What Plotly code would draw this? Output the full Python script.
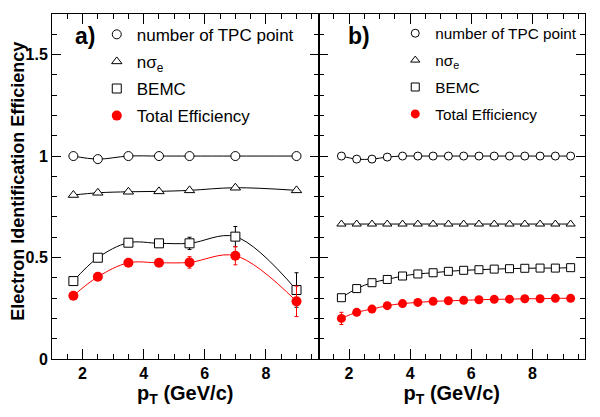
import plotly.graph_objects as go

# panel a) - coarse pT bins
pt_a = [1.7, 2.5, 3.5, 4.5, 5.5, 7.0, 9.0]
tpc_a = [1.0, 0.985, 1.0, 1.0, 1.0, 1.0, 1.0]
nsig_a = [0.808, 0.819, 0.824, 0.826, 0.831, 0.844, 0.831]
bemc_a = [0.384, 0.499, 0.573, 0.570, 0.570, 0.603, 0.340]
bemc_a_err = [0.005, 0.006, 0.008, 0.010, 0.030, 0.050, 0.085]
total_a = [0.312, 0.405, 0.474, 0.474, 0.476, 0.509, 0.284]
total_a_err = [0.008, 0.010, 0.012, 0.014, 0.028, 0.045, 0.075]

# panel b) - fine pT bins
pt_b = [1.75, 2.25, 2.75, 3.25, 3.75, 4.25, 4.75, 5.25,
        5.75, 6.25, 6.75, 7.25, 7.75, 8.25, 8.75, 9.25]
tpc_b = [1.0, 0.985, 0.985, 0.995, 1.0, 1.0, 1.0, 1.0,
         1.0, 1.0, 1.0, 1.0, 1.0, 1.0, 1.0, 1.0]
nsig_b = [0.665, 0.665, 0.665, 0.665, 0.665, 0.665, 0.665, 0.665,
          0.665, 0.665, 0.665, 0.665, 0.665, 0.665, 0.665, 0.665]
bemc_b = [0.302, 0.347, 0.376, 0.392, 0.409, 0.419, 0.425, 0.432,
          0.437, 0.440, 0.443, 0.445, 0.447, 0.448, 0.448, 0.450]
total_b = [0.200, 0.230, 0.246, 0.263, 0.273, 0.279, 0.284, 0.287,
           0.289, 0.292, 0.294, 0.295, 0.297, 0.297, 0.299, 0.299]
total_b_err = [0.030, 0.012, 0.010, 0.008, 0.007, 0.006, 0.006, 0.006,
               0.006, 0.006, 0.006, 0.006, 0.006, 0.006, 0.006, 0.006]

names = ["number of TPC point", "nσ<sub>e</sub>", "BEMC", "Total Efficiency"]
FONT = "Liberation Sans, Arial, Helvetica, sans-serif"

fig = go.Figure()


def add_panel(x, series, errs, xa, ya, leg, msize):
    styles = [
        dict(symbol="circle", color="white", line=dict(color="black", width=1)),
        dict(symbol="triangle-up", color="white", line=dict(color="black", width=1)),
        dict(symbol="square", color="white", line=dict(color="black", width=1)),
        dict(symbol="circle", color="red", line=dict(color="red", width=0)),
    ]
    line_cols = ["black", "black", "black", "red"]
    # smooth curves first, markers on top
    for y, col in zip(series, line_cols):
        fig.add_trace(go.Scatter(x=x, y=y, mode="lines", xaxis=xa, yaxis=ya,
                                 line=dict(color=col, width=1, shape="spline"),
                                 showlegend=False, hoverinfo="skip"))
    for i, (y, err, st) in enumerate(zip(series, errs, styles)):
        ecol = "red" if i == 3 else "black"
        size = msize + 1 if i == 3 else msize
        ey = dict(type="data", array=err, color=ecol, thickness=1, width=2) if err else None
        fig.add_trace(go.Scatter(x=x, y=y, mode="markers", xaxis=xa, yaxis=ya,
                                 name=names[i], legend=leg, legendgroup=leg + str(i),
                                 marker=dict(size=size, **st), error_y=ey))


add_panel(pt_a, [tpc_a, nsig_a, bemc_a, total_a], [None, None, bemc_a_err, total_a_err],
          "x", "y", "legend", 9)
add_panel(pt_b, [tpc_b, nsig_b, bemc_b, total_b], [None, None, None, total_b_err],
          "x2", "y2", "legend2", 8)

xcommon = dict(range=[1, 9.72], dtick=2, ticks="inside", ticklen=10, tickwidth=1,
               tickcolor="black", showline=True, linecolor="black", linewidth=1,
               mirror="ticks", showgrid=False, zeroline=False, automargin=False,
               minor=dict(ticks="inside", dtick=0.5, ticklen=5, tickcolor="black"),
               tickfont=dict(family=FONT, size=16, color="black", weight="bold"),
               title=dict(text="p<sub>T</sub> (GeV/c)", standoff=4,
                          font=dict(family=FONT, size=20, color="black", weight="bold")))
ycommon = dict(range=[0, 1.7], dtick=0.5, ticks="inside", ticklen=9, tickwidth=1,
               tickcolor="black", showline=True, linecolor="black", linewidth=1,
               mirror="ticks", showgrid=False, zeroline=False, automargin=False,
               minor=dict(ticks="inside", dtick=0.1, ticklen=5, tickcolor="black"),
               tickfont=dict(family=FONT, size=16, color="black", weight="bold"))

legcommon = dict(bgcolor="rgba(0,0,0,0)", xanchor="left", yanchor="top",
                 itemsizing="trace")

# page body has an 8px margin, so the figure is a bit smaller than the window
fig.update_layout(
    template="none",
    width=592, height=409,
    margin=dict(l=44, r=15, t=6, b=58, autoexpand=False),
    paper_bgcolor="white", plot_bgcolor="white",
    xaxis=dict(domain=[0, 0.5], anchor="y", **xcommon),
    xaxis2=dict(domain=[0.5, 1], anchor="y2", **xcommon),
    yaxis=dict(domain=[0, 1], anchor="x", **ycommon),
    yaxis2=dict(domain=[0, 1], anchor="x2", showticklabels=False, **ycommon),
    legend=dict(x=0.084, y=0.992, tracegroupgap=2,
                font=dict(family=FONT, size=17, color="black"), **legcommon),
    legend2=dict(x=0.644, y=0.992, tracegroupgap=4,
                 font=dict(family=FONT, size=15.3, color="black"), **legcommon),
    annotations=[
        dict(text="Electron Identification Efficiency", textangle=-90,
             xref="paper", yref="paper", x=-0.064, y=0.516, showarrow=False,
             xanchor="center", yanchor="middle",
             font=dict(family=FONT, size=18, color="black", weight="bold")),
        dict(text="a)", xref="x domain", yref="paper", x=0.08, y=0.936,
             xanchor="left", yanchor="middle", showarrow=False,
             font=dict(family=FONT, size=23, color="black", weight="bold")),
        dict(text="b)", xref="x2 domain", yref="paper", x=0.105, y=0.936,
             xanchor="left", yanchor="middle", showarrow=False,
             font=dict(family=FONT, size=23, color="black", weight="bold")),
    ],
)

fig.write_html("out.html")
